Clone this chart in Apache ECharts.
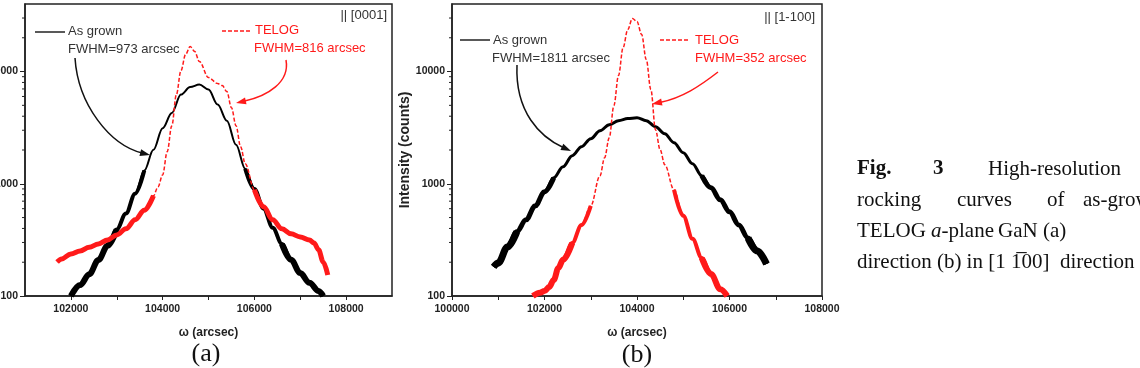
<!DOCTYPE html>
<html>
<head>
<meta charset="utf-8">
<script src="https://cdn.jsdelivr.net/npm/echarts@6/dist/echarts.min.js"></script>
<style>
html, body { margin: 0; padding: 0; background: #fff; }
#chart { width: 1140px; height: 368px; }
</style>
</head>
<body>
<div id="chart"></div>
<script>
// (a) || [0001]
var omegaA_grown = [102000, 102200, 102400, 102600, 102800, 103000, 103200, 103400, 103600, 103800, 104000, 104200, 104400, 104600, 104800, 105000, 105200, 105400, 105600, 105800, 106000, 106200, 106400, 106600, 106800, 107000, 107200, 107400, 107500];
var countsA_grown = [100, 125, 156, 209, 280, 392, 543, 816, 1310, 2010, 3130, 4280, 6230, 7270, 7650, 6910, 5080, 3650, 2230, 1360, 900, 600, 405, 291, 210, 160, 131, 111, 100];
var omegaA_telog = [101700, 101800, 102000, 102200, 102400, 102600, 102800, 103000, 103200, 103400, 103600, 103800, 103900, 104000, 104100, 104200, 104300, 104400, 104500, 104600, 104700, 104800, 105000, 105200, 105300, 105400, 105500, 105600, 105700, 105800, 106000, 106200, 106400, 106600, 106800, 107000, 107200, 107300, 107400, 107500, 107600];
var countsA_telog = [201, 214, 237, 252, 272, 291, 316, 350, 397, 477, 581, 781, 940, 1200, 1930, 3290, 6230, 10200, 14200, 16700, 15100, 12300, 8840, 7810, 7500, 6630, 4770, 3290, 2140, 1510, 884, 623, 477, 397, 358, 336, 316, 297, 258, 201, 154];

// (b) || [1-100]
var omegaB_grown = [100900, 101000, 101200, 101400, 101600, 101800, 102000, 102200, 102400, 102600, 102800, 103000, 103200, 103400, 103600, 103800, 104000, 104200, 104400, 104600, 104800, 105000, 105200, 105400, 105600, 105800, 106000, 106200, 106400, 106600, 106800];
var countsB_grown = [182, 197, 274, 373, 477, 636, 848, 1130, 1420, 1780, 2140, 2520, 2970, 3360, 3650, 3810, 3880, 3650, 3230, 2790, 2320, 1890, 1510, 1180, 921, 720, 562, 430, 329, 252, 193];
var omegaB_telog = [101750, 101900, 102000, 102100, 102200, 102300, 102400, 102600, 102800, 103000, 103200, 103300, 103400, 103500, 103600, 103700, 103800, 103900, 104000, 104100, 104200, 104300, 104400, 104500, 104600, 104800, 105000, 105200, 105400, 105600, 105800, 105950];
var countsB_telog = [100, 107, 111, 120, 139, 178, 210, 297, 430, 636, 1180, 1710, 2570, 4970, 9210, 16400, 23700, 29700, 27900, 21400, 12800, 6910, 3030, 2010, 1480, 884, 518, 323, 218, 157, 115, 100];

var xRangeA = [101000, 109000];
var xRangeB = [100000, 108000];
var xLabelsA = [102000, 104000, 106000, 108000];
var xTicksA = [102000, 103000, 104000, 105000, 106000, 107000, 108000];
var yRange = [100, 40000];
var yMinorTicks = [200, 300, 400, 500, 600, 700, 800, 900, 2000, 3000, 4000, 5000, 6000, 7000, 8000, 9000, 20000, 30000];

var SANS = '"Liberation Sans", Arial, sans-serif';
var SERIF = '"Liberation Serif", "Times New Roman", serif';
var RED = '#ff1a1a';
var INK = '#222';

function pairs(xs, ys, maxY) {
  return xs.map(function (x, i) {
    return [x, (maxY == null || ys[i] <= maxY) ? ys[i] : '-'];
  });
}

function curve(name, idx, data, color, width, dashed) {
  return {
    name: name, type: 'line', xAxisIndex: idx, yAxisIndex: idx,
    data: data, showSymbol: false, smooth: 0.35, smoothMonotone: 'x',
    connectNulls: false, silent: true, animation: false,
    lineStyle: { color: color, width: width, type: dashed ? [4, 2] : 'solid' }
  };
}

// log-axis minor ticks (2..9 of every decade), drawn outside the left axis
function minorTicks(idx, xMin) {
  return {
    type: 'custom', xAxisIndex: idx, yAxisIndex: idx, silent: true, animation: false, clip: false, z: 10,
    data: yMinorTicks.map(function (v) { return [xMin, v]; }),
    renderItem: function (params, api) {
      var p = api.coord([api.value(0), api.value(1)]);
      return { type: 'line', shape: { x1: p[0] - 3, y1: p[1], x2: p[0], y2: p[1] }, style: { stroke: INK, lineWidth: 1 } };
    }
  };
}

function plain(v) { return String(v); }

function xAxis(idx, range, extra) {
  var ax = {
    type: 'value', gridIndex: idx, min: range[0], max: range[1],
    name: 'ω (arcsec)', nameLocation: 'middle', nameGap: 31,
    nameTextStyle: { fontFamily: SANS, fontWeight: 'bold', fontSize: 12, color: INK },
    axisLine: { onZero: false, lineStyle: { color: INK, width: 1.5 } },
    axisTick: { inside: false, length: 4, lineStyle: { color: INK } },
    axisLabel: { margin: 8, fontFamily: SANS, fontWeight: 'bold', fontSize: 10.5, color: INK, formatter: plain },
    splitLine: { show: false }
  };
  return Object.assign(ax, extra);
}

function yAxis(idx, extra) {
  var ax = {
    type: 'log', logBase: 10, gridIndex: idx, min: yRange[0], max: yRange[1],
    axisLine: { show: true, lineStyle: { color: INK, width: 1.5 } },
    axisTick: { inside: false, length: 5, lineStyle: { color: INK } },
    axisLabel: { margin: 7, fontFamily: SANS, fontWeight: 'bold', fontSize: 10.5, color: INK,
      formatter: plain, showMaxLabel: false },
    splitLine: { show: false }
  };
  return Object.assign(ax, extra);
}

function text(str, x, y, opt) {
  opt = opt || {};
  return {
    type: 'text', x: x, y: y, silent: true,
    style: {
      text: str, fill: opt.fill || '#333', align: opt.align || 'left', verticalAlign: 'middle',
      font: (opt.style || '') + ' ' + (opt.weight || 'normal') + ' ' + (opt.size || 13) + 'px ' + (opt.family || SANS),
      rich: opt.rich
    }
  };
}

function arrow(p, color) {
  // p: x1, y1, cpx1, cpy1, cpx2, cpy2, x2, y2
  var dx = p[6] - p[4], dy = p[7] - p[5];
  var len = Math.sqrt(dx * dx + dy * dy);
  var ux = dx / len, uy = dy / len, L = 10, W = 3.5;
  var bx = p[6] - ux * L, by = p[7] - uy * L;
  return [
    { type: 'bezierCurve', silent: true,
      shape: { x1: p[0], y1: p[1], cpx1: p[2], cpy1: p[3], cpx2: p[4], cpy2: p[5], x2: bx + ux * 2, y2: by + uy * 2 },
      style: { stroke: color, lineWidth: 1.5, fill: 'none' } },
    { type: 'polygon', silent: true,
      shape: { points: [[p[6], p[7]], [bx - uy * W, by + ux * W], [bx + uy * W, by - ux * W]] },
      style: { fill: color } }
  ];
}

function legendLine(x1, x2, y, color, dashed) {
  return { type: 'line', silent: true, shape: { x1: x1, y1: y, x2: x2, y2: y },
    style: { stroke: color, lineWidth: 1.5, lineDash: dashed ? [4, 2] : null } };
}

function cap(str, x, y, opt) {
  opt = opt || {};
  return text(str, x, y, { size: 21, family: SERIF, fill: '#111', weight: opt.weight, rich: opt.rich });
}

var grids = [
  { left: 25, top: 4, width: 367, height: 292, show: true, borderColor: INK, borderWidth: 1.5, outerBoundsMode: 'none', containLabel: false },
  { left: 452, top: 4, width: 370, height: 292, show: true, borderColor: INK, borderWidth: 1.5, outerBoundsMode: 'none', containLabel: false }
];

var graphics = [].concat(
  // panel (a) annotations
  [text('|| [0001]', 387, 15, { align: 'right' }),
   legendLine(35, 65, 32, INK, false),
   text('As grown', 68, 31),
   text('FWHM=973 arcsec', 68, 49),
   legendLine(222, 252, 31, RED, true),
   text('TELOG', 255, 30, { fill: RED }),
   text('FWHM=816 arcsec', 254, 48, { fill: RED })],
  arrow([75, 58, 78, 105, 110, 145, 150, 155], '#111'),
  arrow([286, 60, 290, 82, 268, 96, 236, 103], RED),
  // panel (b) annotations
  [text('|| [1-100]', 815, 17, { align: 'right' }),
   legendLine(460, 490, 40, INK, false),
   text('As grown', 493, 40),
   text('FWHM=1811 arcsec', 492, 58),
   legendLine(660, 690, 40, RED, true),
   text('TELOG', 695, 40, { fill: RED }),
   text('FWHM=352 arcsec', 695, 58, { fill: RED })],
  arrow([517, 65, 515, 112, 540, 137, 571, 151], '#111'),
  arrow([718, 72, 700, 86, 682, 98, 652, 104], RED),
  // panel captions
  [text('(a)', 206, 354, { size: 26, family: SERIF, fill: '#111', align: 'center' }),
   text('(b)', 637, 355, { size: 26, family: SERIF, fill: '#111', align: 'center' })],
  // figure caption, cut at the right edge as in the source page
  [cap('Fig.', 857, 169, { weight: 'bold' }),
   cap('3', 933, 169, { weight: 'bold' }),
   cap('High-resolution', 988, 169),
   cap('rocking', 857, 200),
   cap('curves', 957, 200),
   cap('of', 1047, 200),
   cap('as-grown', 1083, 200),
   cap('TELOG', 857, 231),
   cap('{i|a}-plane', 931, 231, { rich: { i: { fontStyle: 'italic', fontFamily: SERIF, fontSize: 21, fill: '#111' } } }),
   cap('GaN', 998, 231),
   cap('(a)', 1043, 231),
   cap('direction (b) in [1 1\u030500]  direction', 857, 262)]
);

var chart = echarts.init(document.getElementById('chart'), null, { renderer: 'canvas' });
chart.setOption({
  backgroundColor: '#fff',
  animation: false,
  grid: grids,
  xAxis: [
    xAxis(0, xRangeA, {
      axisTick: { inside: false, length: 4, lineStyle: { color: INK }, customValues: xTicksA },
      axisLabel: { margin: 8, fontFamily: SANS, fontWeight: 'bold', fontSize: 10.5, color: INK, formatter: plain, customValues: xLabelsA }
    }),
    xAxis(1, xRangeB, { interval: 2000, minorTick: { show: true, splitNumber: 2, length: 4, lineStyle: { color: INK } } })
  ],
  yAxis: [
    yAxis(0),
    yAxis(1, { name: 'Intensity (counts)', nameLocation: 'middle', nameGap: 37,
      nameTextStyle: { fontFamily: SANS, fontWeight: 'bold', fontSize: 14, color: INK } })
  ],
  series: [
    curve('As grown', 0, pairs(omegaA_grown, countsA_grown), '#000', 2),
    curve('As grown', 0, pairs(omegaA_grown, countsA_grown, 1500), '#000', 4),
    curve('As grown', 0, pairs(omegaA_grown, countsA_grown, 400), '#000', 6),
    curve('TELOG', 0, pairs(omegaA_telog, countsA_telog), RED, 1.5, true),
    curve('TELOG', 0, pairs(omegaA_telog, countsA_telog, 900), RED, 5),
    curve('As grown', 1, pairs(omegaB_grown, countsB_grown), '#000', 3),
    curve('As grown', 1, pairs(omegaB_grown, countsB_grown, 1200), '#000', 5),
    curve('As grown', 1, pairs(omegaB_grown, countsB_grown, 400), '#000', 7),
    curve('TELOG', 1, pairs(omegaB_telog, countsB_telog), RED, 1.5, true),
    curve('TELOG', 1, pairs(omegaB_telog, countsB_telog, 1000), RED, 4),
    curve('TELOG', 1, pairs(omegaB_telog, countsB_telog, 300), RED, 6),
    minorTicks(0, xRangeA[0]),
    minorTicks(1, xRangeB[0])
  ],
  graphic: graphics
});
</script>
</body>
</html>
